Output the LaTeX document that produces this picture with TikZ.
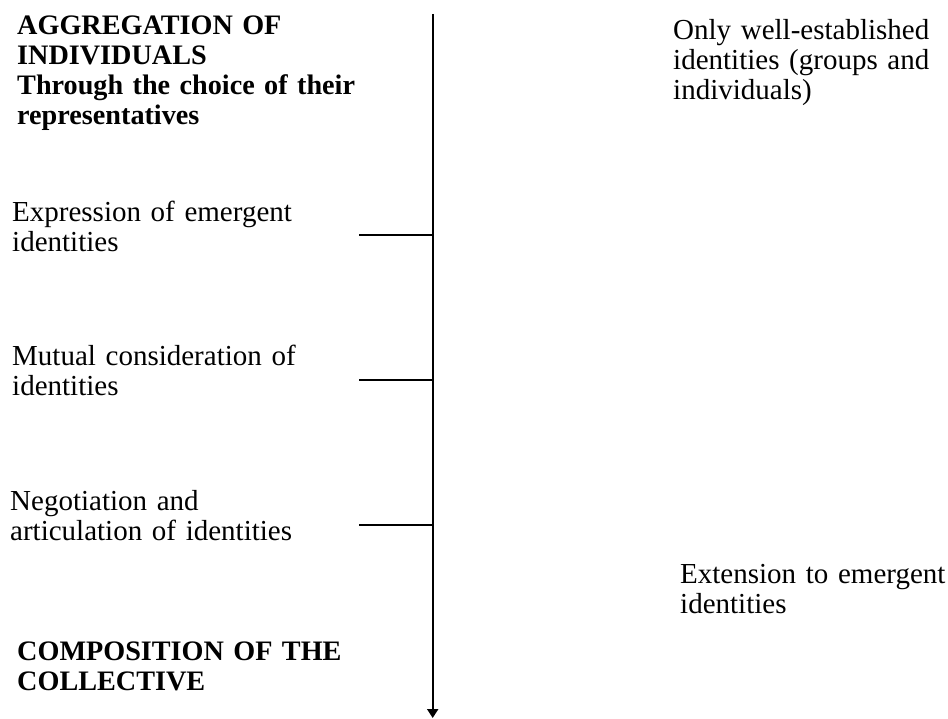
\documentclass[tikz,border=0pt]{standalone}
\usepackage{fontspec}
\setmainfont{Liberation Serif}
\usetikzlibrary{arrows.meta}
\tikzset{
  lbl/.style={anchor=base west, inner sep=0pt, align=left, text width=420pt,
    font=\fontsize{29}{30}\selectfont},
  blbl/.style={lbl, font=\fontsize{28.2}{30}\selectfont\bfseries},
  axis/.style={line width=2pt, -{Triangle[width=11pt,length=9pt]}},
  tick/.style={line width=2pt}
}
\begin{document}
\begin{tikzpicture}[x=1pt,y=-1pt]
\useasboundingbox (0,0) rectangle (948,719);
\coordinate (top) at (432.7,14);
\coordinate (bot) at (432.7,718);
\coordinate (a1) at (432.7,235);
\coordinate (a2) at (432.7,380);
\coordinate (a3) at (432.7,525);
\coordinate (t1) at (359,235);
\coordinate (t2) at (359,380);
\coordinate (t3) at (359,525);
\draw[axis] (top) -- (bot);
\draw[tick] (t1) -- (a1);
\draw[tick] (t2) -- (a2);
\draw[tick] (t3) -- (a3);
\node[blbl] (agg) at (17,35) {AGGREGATION OF\\INDIVIDUALS\\Through the choice of their\\representatives};
\node[lbl] (expr) at (12,222) {Expression of emergent\\identities};
\node[lbl] (mutual) at (12,366) {Mutual consideration of\\identities};
\node[lbl] (negot) at (10,510) {Negotiation and\\articulation of identities};
\node[blbl] (compo) at (17,660) {COMPOSITION OF THE\\COLLECTIVE};
\node[lbl, text width=300pt] (only) at (673,40) {Only well-established\\identities (groups and\\individuals)};
\node[lbl, text width=300pt] (ext) at (680,583) {Extension to emergent\\identities};
\end{tikzpicture}
\end{document}
